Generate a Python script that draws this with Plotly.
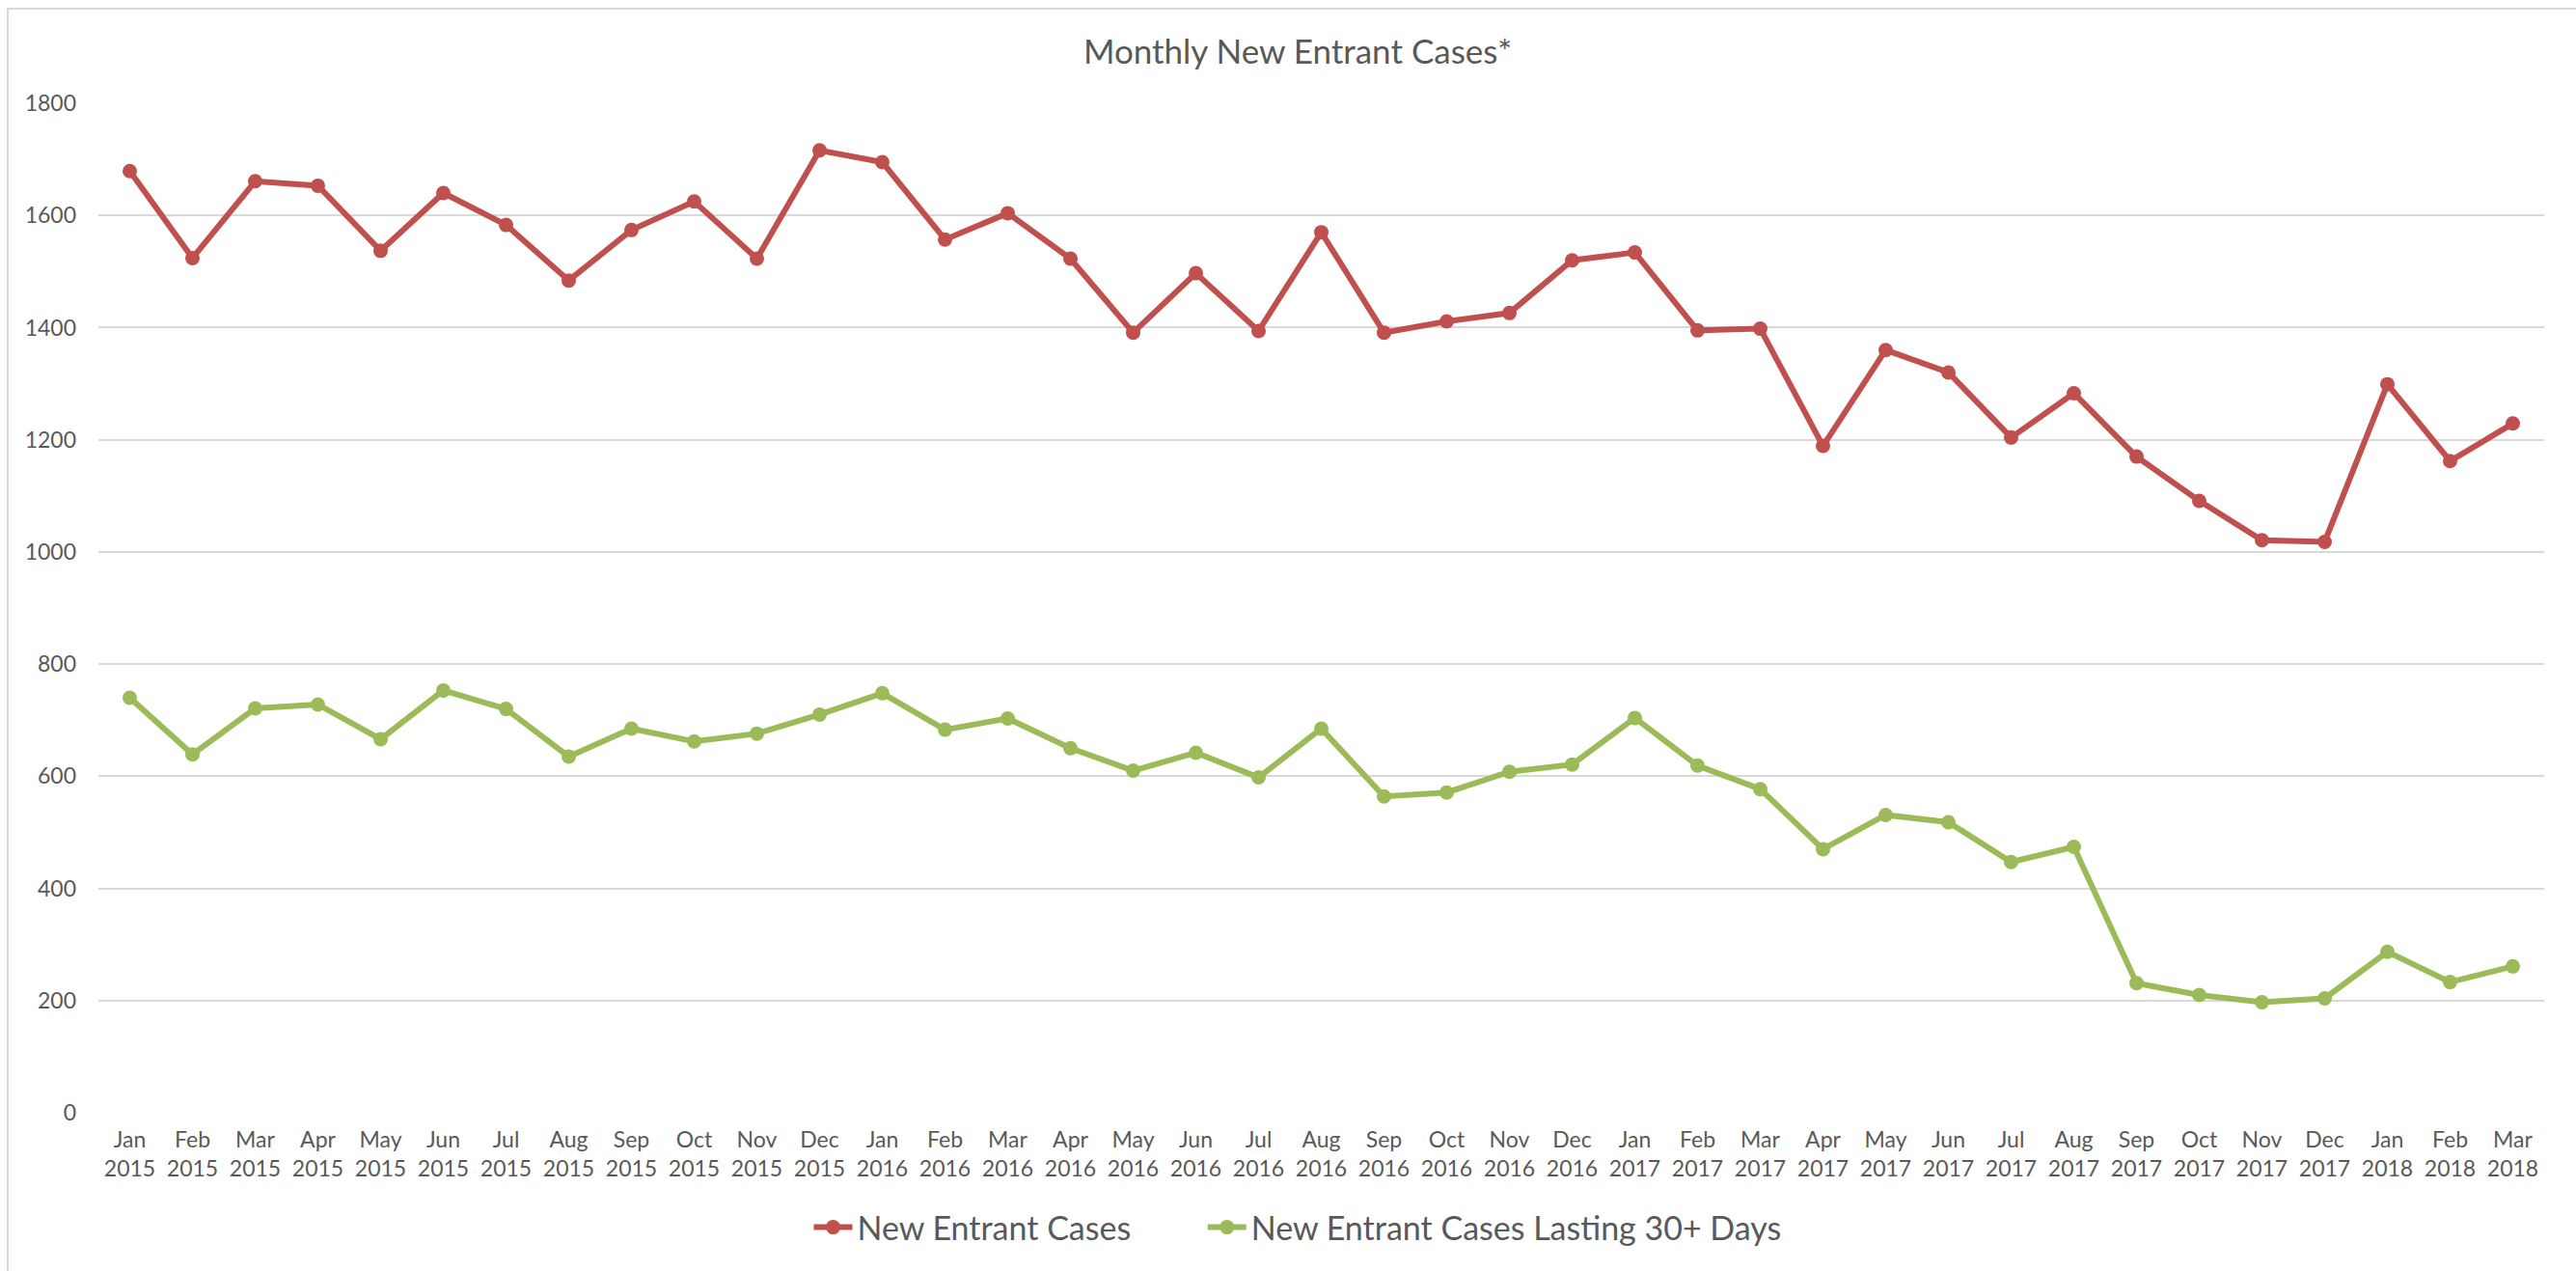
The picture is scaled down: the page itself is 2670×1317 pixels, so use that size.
import plotly.graph_objects as go

months = ["Jan", "Feb", "Mar", "Apr", "May", "Jun", "Jul", "Aug", "Sep", "Oct", "Nov", "Dec"]
years = [2015, 2016, 2017, 2018]
categories = [f"{m}<br>{y}" for y in years for m in months][:39]

new_entrant_cases = [
    1679, 1524, 1661, 1653, 1537, 1640, 1583, 1484, 1574, 1625, 1523, 1716,
    1695, 1557, 1604, 1523, 1391, 1497, 1394, 1570, 1391, 1411, 1426, 1520,
    1534, 1395, 1398, 1189, 1360, 1320, 1204, 1283, 1170, 1091, 1021, 1018,
    1299, 1162, 1229,
]
lasting_30_plus = [
    740, 639, 721, 728, 666, 753, 720, 635, 685, 662, 676, 710,
    748, 683, 703, 650, 610, 642, 598, 685, 564, 571, 608, 621,
    704, 619, 577, 470, 531, 518, 447, 474, 231, 210, 197, 204,
    287, 233, 261,
]
series_names = ["New Entrant Cases", "New Entrant Cases Lasting 30+ Days"]
y_ticks = [0, 200, 400, 600, 800, 1000, 1200, 1400, 1600, 1800]

W, H = 2670, 1317
ML, MR, MT, MB = 102, 33, 107, 164
FONT = "Lato, 'Open Sans', sans-serif"
TXT = "#595959"
GAP = "\u00a0" * 8

fig = go.Figure()
fig.add_trace(go.Scatter(
    x=categories, y=new_entrant_cases, name=series_names[0] + GAP,
    mode="lines+markers",
    line=dict(color="#C0504D", width=6),
    marker=dict(color="#C0504D", size=15, symbol="circle"),
))
fig.add_trace(go.Scatter(
    x=categories, y=lasting_30_plus, name=series_names[1],
    mode="lines+markers",
    line=dict(color="#9BBB59", width=6),
    marker=dict(color="#9BBB59", size=15, symbol="circle"),
))

pw = W - ML - MR
ph = H - MT - MB
fig.add_shape(
    type="rect", xref="paper", yref="paper",
    x0=(8 - ML) / pw, x1=(W + 20 - ML) / pw,
    y0=(H - MB - (H + 20)) / ph, y1=(H - MB - 9) / ph,
    line=dict(color="#D9D9D9", width=2), layer="below",
)

fig.update_layout(
    width=W, height=H,
    margin=dict(l=ML, r=MR, t=MT, b=MB, pad=0),
    paper_bgcolor="white", plot_bgcolor="white",
    font=dict(family=FONT, color=TXT),
    title=dict(
        text="Monthly New Entrant Cases*",
        x=(1345 - ML) / pw * pw / W + ML / W, xanchor="center", y=1 - 54 / H, yanchor="middle",
        font=dict(size=35, color=TXT, family=FONT),
    ),
    showlegend=True,
    legend=dict(
        orientation="h", x=(1345 - ML) / pw, xanchor="center",
        y=-(1272 - (H - MB)) / ph, yanchor="middle",
        font=dict(size=34, color=TXT, family=FONT),
        itemwidth=40, bgcolor="rgba(0,0,0,0)",
    ),
    xaxis=dict(
        type="category", categoryorder="array", categoryarray=categories,
        range=[-0.5, len(categories) - 0.5],
        showgrid=False, zeroline=False, showline=False, ticks="",
        tickfont=dict(size=23, color=TXT, family=FONT),
        ticklabelstandoff=12,
    ),
    yaxis=dict(
        range=[0, 1800], tickvals=y_ticks,
        showgrid=True, gridcolor="#D9D9D9", gridwidth=2,
        zeroline=False, showline=False, ticks="",
        tickfont=dict(size=23, color=TXT, family=FONT),
        ticklabelstandoff=22,
    ),
)

fig.write_html(
    "out.html",
    config={"displayModeBar": False},
    post_script="document.body.style.margin='0';document.body.style.overflow='hidden';",
)
